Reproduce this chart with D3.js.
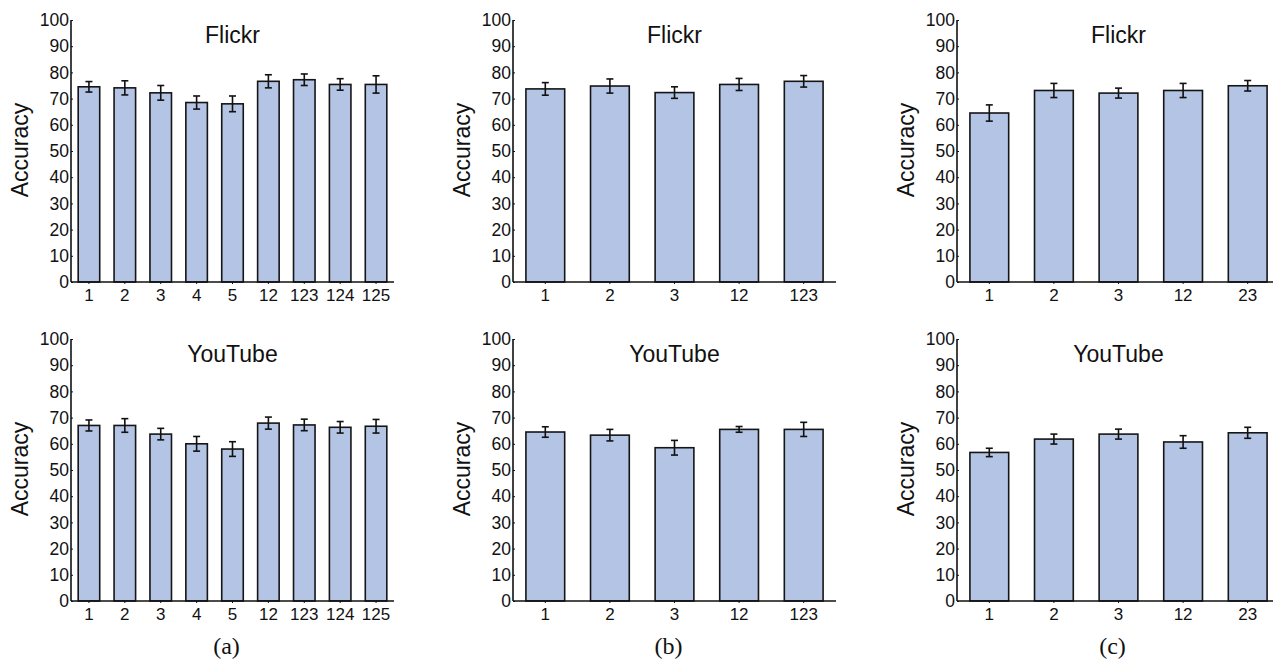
<!DOCTYPE html>
<html>
<head>
<meta charset="utf-8">
<script src="https://cdn.jsdelivr.net/npm/d3@7"></script>
<style>
  html, body { margin: 0; padding: 0; background: #fff; }
  svg { display: block; }
</style>
</head>
<body>
<svg id="chart" width="1273" height="660"></svg>
<script>
// ---- Data ----
const catsA = ["1", "2", "3", "4", "5", "12", "123", "124", "125"];
const catsB = ["1", "2", "3", "12", "123"];
const catsC = ["1", "2", "3", "12", "23"];

const flickrA = [74.5, 74.1, 72.2, 68.5, 68.0, 76.6, 77.2, 75.4, 75.4];
const flickrAErr = [2.0, 2.7, 2.8, 2.5, 3.0, 2.5, 2.2, 2.2, 3.3];
const youtubeA = [67.0, 67.0, 63.7, 60.0, 58.0, 67.9, 67.2, 66.3, 66.7];
const youtubeAErr = [2.1, 2.6, 2.2, 2.8, 2.8, 2.3, 2.2, 2.2, 2.6];

const flickrB = [73.7, 74.8, 72.3, 75.4, 76.6];
const flickrBErr = [2.4, 2.7, 2.2, 2.3, 2.2];
const youtubeB = [64.5, 63.3, 58.5, 65.5, 65.5];
const youtubeBErr = [2.0, 2.2, 2.8, 1.1, 2.7];

const flickrC = [64.5, 73.1, 72.1, 73.1, 74.9];
const flickrCErr = [3.1, 2.7, 1.9, 2.7, 2.0];
const youtubeC = [56.7, 61.8, 63.7, 60.7, 64.2];
const youtubeCErr = [1.6, 1.9, 1.9, 2.4, 2.1];

const yTicks = [0, 10, 20, 30, 40, 50, 60, 70, 80, 90, 100];
const titles = ["Flickr", "YouTube"];
const captions = ["(a)", "(b)", "(c)"];
const yLabel = "Accuracy";

// ---- Layout ----
const svg = d3.select("#chart");
const colX = [[71, 394], [513, 836], [957, 1280]];
const rowY = [[282, 20], [601, 339]];
const barFill = "#b4c4e4";
const sans = "'Liberation Sans', Arial, Helvetica, sans-serif";
const serif = "'Liberation Serif', 'Times New Roman', serif";

const panels = [
  { col: 0, row: 0, cats: catsA, vals: flickrA, errs: flickrAErr, title: titles[0] },
  { col: 1, row: 0, cats: catsB, vals: flickrB, errs: flickrBErr, title: titles[0] },
  { col: 2, row: 0, cats: catsC, vals: flickrC, errs: flickrCErr, title: titles[0] },
  { col: 0, row: 1, cats: catsA, vals: youtubeA, errs: youtubeAErr, title: titles[1] },
  { col: 1, row: 1, cats: catsB, vals: youtubeB, errs: youtubeBErr, title: titles[1] },
  { col: 2, row: 1, cats: catsC, vals: youtubeC, errs: youtubeCErr, title: titles[1] }
];

panels.forEach(p => {
  const xr = colX[p.col], yr = rowY[p.row];
  const x = d3.scaleBand().domain(p.cats).range(xr).paddingInner(0.4).paddingOuter(0.2);
  const y = d3.scaleLinear().domain([0, 100]).range(yr);
  const g = svg.append("g");

  // bars
  g.selectAll("rect.bar").data(p.vals).enter().append("rect")
    .attr("class", "bar")
    .attr("x", (d, i) => x(p.cats[i]))
    .attr("y", d => y(d))
    .attr("width", x.bandwidth())
    .attr("height", d => y(0) - y(d))
    .attr("fill", barFill)
    .attr("stroke", "#151515")
    .attr("stroke-width", 1.6);

  // error bars
  const cap = 3.5;
  const eg = g.selectAll("g.err").data(p.vals).enter().append("g").attr("class", "err")
    .attr("stroke", "#111").attr("stroke-width", 1.6);
  eg.append("line")
    .attr("x1", (d, i) => x(p.cats[i]) + x.bandwidth() / 2)
    .attr("x2", (d, i) => x(p.cats[i]) + x.bandwidth() / 2)
    .attr("y1", (d, i) => y(d - p.errs[i]))
    .attr("y2", (d, i) => y(d + p.errs[i]));
  eg.append("line")
    .attr("x1", (d, i) => x(p.cats[i]) + x.bandwidth() / 2 - cap)
    .attr("x2", (d, i) => x(p.cats[i]) + x.bandwidth() / 2 + cap)
    .attr("y1", (d, i) => y(d + p.errs[i]))
    .attr("y2", (d, i) => y(d + p.errs[i]));
  eg.append("line")
    .attr("x1", (d, i) => x(p.cats[i]) + x.bandwidth() / 2 - cap)
    .attr("x2", (d, i) => x(p.cats[i]) + x.bandwidth() / 2 + cap)
    .attr("y1", (d, i) => y(d - p.errs[i]))
    .attr("y2", (d, i) => y(d - p.errs[i]));

  // y axis
  const yAxis = d3.axisLeft(y).tickValues(yTicks).tickSize(-2).tickPadding(2).tickFormat(d3.format("d"));
  const ya = g.append("g").attr("transform", `translate(${xr[0]},0)`).call(yAxis);
  ya.select(".domain").attr("d", `M0,${yr[1]}V${yr[0]}`).attr("stroke", "#111").attr("stroke-width", 1.6);
  ya.selectAll(".tick line").attr("stroke", "#111");
  ya.selectAll("text").attr("font-family", sans).attr("font-size", 17.5).attr("fill", "#111");

  // x axis
  const xAxis = d3.axisBottom(x).tickSize(2).tickPadding(5);
  const xa = g.append("g").attr("transform", `translate(0,${yr[0]})`).call(xAxis);
  xa.select(".domain").attr("d", `M${xr[0]},0H${xr[1]}`).attr("stroke", "#111").attr("stroke-width", 1.6);
  xa.selectAll(".tick line").attr("stroke", "#111");
  xa.selectAll("text").attr("font-family", sans).attr("font-size", 17).attr("fill", "#111");

  // title
  g.append("text")
    .attr("x", (xr[0] + xr[1]) / 2)
    .attr("y", yr[1] + 23)
    .attr("text-anchor", "middle")
    .attr("font-family", sans).attr("font-size", 23).attr("fill", "#111")
    .text(p.title);

  // y label
  g.append("text")
    .attr("transform", `translate(${xr[0] - 43},${(yr[0] + yr[1]) / 2 - 1}) rotate(-90)`)
    .attr("text-anchor", "middle")
    .attr("font-family", sans).attr("font-size", 23).attr("fill", "#111")
    .text(yLabel);
});

// captions
captions.forEach((c, i) => {
  svg.append("text")
    .attr("x", (colX[i][0] + colX[i][1]) / 2 - 6)
    .attr("y", 654)
    .attr("text-anchor", "middle")
    .attr("font-family", serif).attr("font-size", 24).attr("fill", "#111")
    .text(c);
});
</script>
</body>
</html>
